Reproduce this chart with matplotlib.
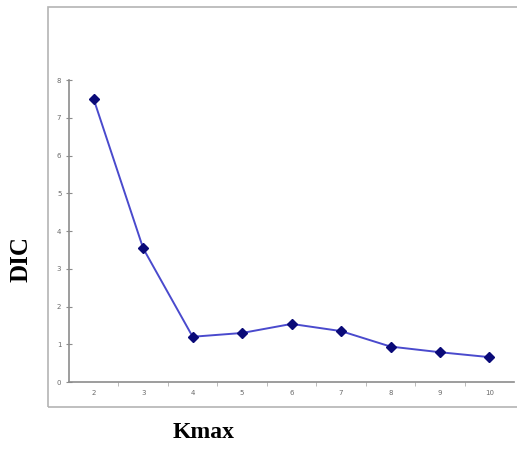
import matplotlib.pyplot as plt
from matplotlib.patches import Rectangle
import numpy as np

# Data
kmax = [2, 3, 4, 5, 6, 7, 8, 9, 10]
dic = [7.49, 3.54, 1.20, 1.30, 1.54, 1.35, 0.94, 0.79, 0.66]
y_ticks = [0, 1, 2, 3, 4, 5, 6, 7, 8]

fig = plt.figure(figsize=(5.17, 4.5), dpi=100)

# outer chart frame (Excel-style chart border)
frame = Rectangle((0.093, 0.0956), 0.93, 0.888, transform=fig.transFigure,
                  fill=False, edgecolor='#b4b4b4', linewidth=1.2, clip_on=False)
fig.patches.append(frame)

ax = fig.add_axes([0.1335, 0.151, 0.861, 0.671])

ax.plot(kmax, dic, color='#4a4acd', linewidth=1.4, marker='D', markersize=5.5,
        markerfacecolor='#0a0a78', markeredgecolor='#0a0a78', zorder=3)

ax.set_xlim(kmax[0] - 0.5, kmax[-1] + 0.5)
ax.set_ylim(0, 8)
ax.set_xticks(kmax)
ax.set_xticks(np.array(kmax[:-1]) + 0.5, minor=True)
ax.set_yticks(y_ticks)

for side in ['top', 'right']:
    ax.spines[side].set_visible(False)
for side in ['left', 'bottom']:
    ax.spines[side].set_color('#8c8c8c')
    ax.spines[side].set_linewidth(1.2)

ax.tick_params(axis='both', which='major', labelsize=5, labelcolor='#6a6a6a',
               color='#8c8c8c', direction='inout', length=4)
ax.tick_params(axis='x', which='major', length=0, pad=6)
ax.tick_params(axis='x', which='minor', color='#b0b0b0', direction='out', length=3)

ax.set_xlabel('Kmax', fontsize=17, fontweight='bold', family='Liberation Serif')
ax.set_ylabel('DIC', fontsize=18, fontweight='bold', family='Liberation Serif')
ax.xaxis.set_label_coords(0.303, -0.132)
ax.yaxis.set_label_coords(-0.081, 0.407)

fig.savefig('out.png', dpi=100)
